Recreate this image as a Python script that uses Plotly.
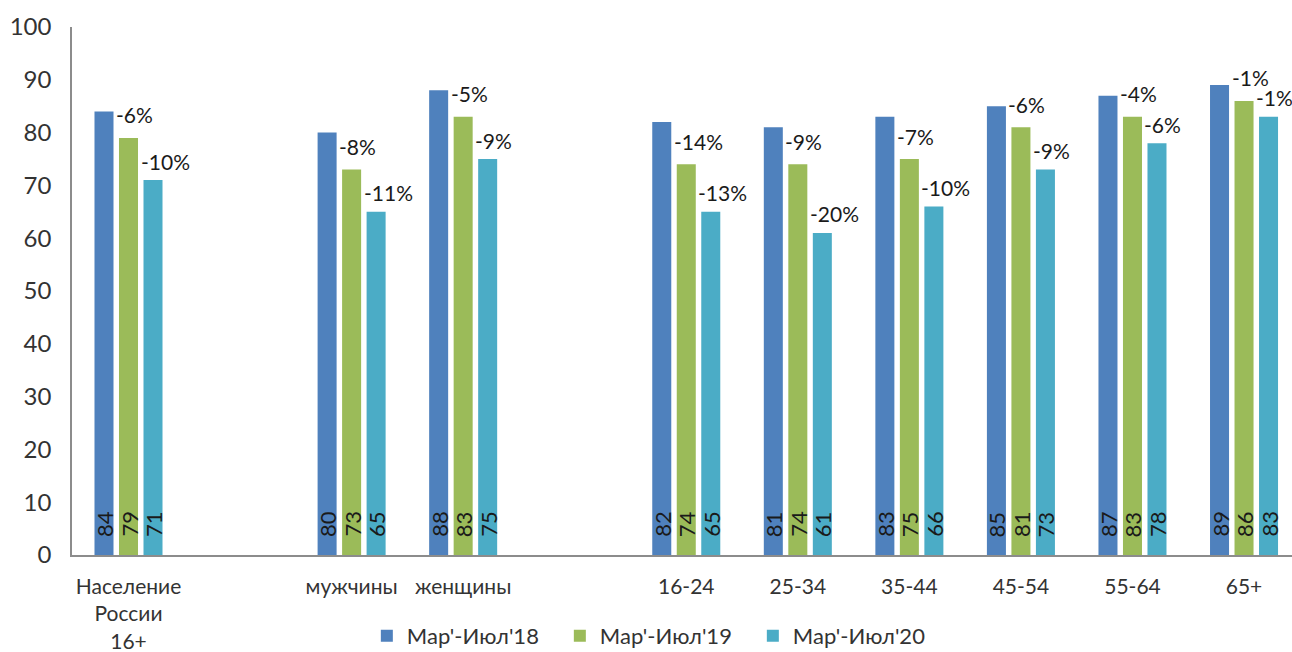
import plotly.graph_objects as go

categories = ["Население<br>России<br>16+", "мужчины", "женщины",
              "16-24", "25-34", "35-44", "45-54", "55-64", "65+"]
spacers = [" ", "  "]
axis_order = [categories[0], spacers[0], categories[1], categories[2], spacers[1]] + categories[3:]

series_names = ["Мар'-Июл'18", "Мар'-Июл'19", "Мар'-Июл'20"]
v18 = [84, 80, 88, 82, 81, 83, 85, 87, 89]
v19 = [79, 73, 83, 74, 74, 75, 81, 83, 86]
v20 = [71, 65, 75, 65, 61, 66, 73, 78, 83]
pct19 = ["-6%", "-8%", "-5%", "-14%", "-9%", "-7%", "-6%", "-4%", "-1%"]
pct20 = ["-10%", "-11%", "-9%", "-13%", "-20%", "-10%", "-9%", "-6%", "-1%"]

y_ticks = [0, 10, 20, 30, 40, 50, 60, 70, 80, 90, 100]

colors = ["#4F81BD", "#9BBB59", "#4BACC6"]
FONT = "Lato"

fig = go.Figure()
all_vals = [v18, v19, v20]
for name, vals, col in zip(series_names, all_vals, colors):
    fig.add_trace(go.Bar(x=categories, y=vals, name=name, marker_color=col,
                         marker_line_width=0))

step = 24.5
half_w = 9.5
annotations = []
for i, vals in enumerate(all_vals):
    off = (i - 1) * step
    for c, v in zip(categories, vals):
        annotations.append(dict(x=c, y=0, xref="x", yref="y", text=str(v),
                                showarrow=False, textangle=-90,
                                xanchor="center", yanchor="bottom",
                                xshift=off, yshift=16,
                                font=dict(family=FONT, size=22, color="#1a1a1a")))
for i, (vals, pcts, ys) in enumerate([(v19, pct19, 23), (v20, pct20, 19)]):
    off = i * step - half_w - 5
    for c, v, p in zip(categories, vals, pcts):
        annotations.append(dict(x=c, y=v, xref="x", yref="y", text=p,
                                showarrow=False, xanchor="left", yanchor="middle",
                                xshift=off, yshift=ys,
                                font=dict(family=FONT, size=21, color="#1a1a1a")))

fig.update_layout(
    width=1292, height=652,
    margin=dict(l=72, r=0, t=27, b=97),
    paper_bgcolor="white", plot_bgcolor="white",
    barmode="group", bargap=0.341, bargroupgap=0.224,
    font=dict(family=FONT, color="#333333"),
    xaxis=dict(type="category", categoryorder="array", categoryarray=axis_order,
               range=[-0.5065, 10.43], showline=True, linecolor="#8c8c8c",
               linewidth=1.5, showgrid=False, ticks="", zeroline=False,
               automargin=False,
               tickfont=dict(family=FONT, size=21, color="#333333"),
               ticklabelstandoff=12),
    yaxis=dict(range=[0, 100], tickvals=y_ticks, showline=True, linecolor="#8c8c8c",
               linewidth=1.5, showgrid=False, ticks="", zeroline=False,
               automargin=False,
               tickfont=dict(family=FONT, size=24, color="#333333"),
               ticklabelstandoff=14),
    legend=dict(orientation="h", xref="container", yref="container",
                x=0.508, xanchor="center", y=0.0245, yanchor="middle",
                font=dict(family=FONT, size=22, color="#333333"),
                entrywidth=148, itemwidth=30),
    annotations=annotations,
    showlegend=True,
)

fig.write_html("out.html")
